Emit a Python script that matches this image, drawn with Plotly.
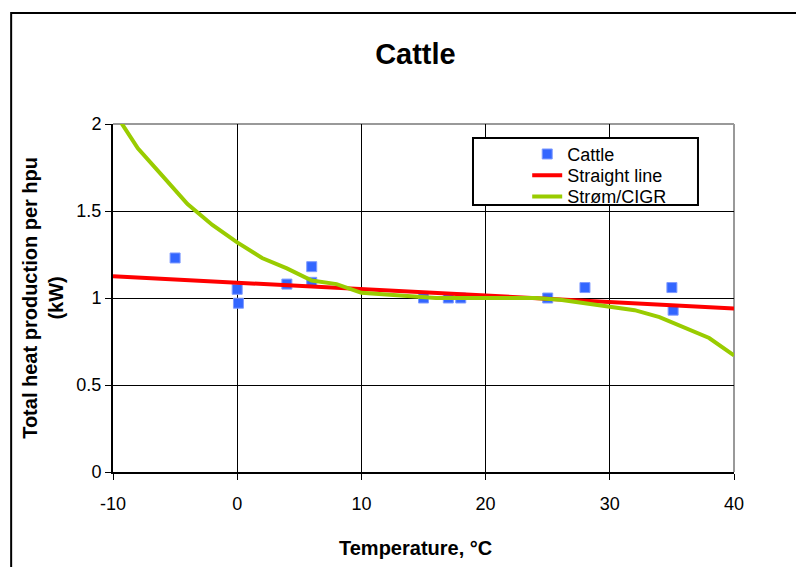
import plotly.graph_objs as go

# measured cattle points
cattle_temp = [-5, 0, 0.1, 4, 6, 6, 15, 17, 18, 25, 28, 35, 35.1]
cattle_heat = [1.23, 1.05, 0.97, 1.08, 1.18, 1.09, 1.0, 1.0, 1.0, 1.0, 1.06, 1.06, 0.93]

# fitted straight line
line_temp = [-10, 40]
line_heat = [1.125, 0.94]

# Strøm/CIGR curve
cigr_temp = [-10, -8, -6, -4, -2, 0, 2, 4, 6, 8, 10, 12, 14, 16, 18, 20, 22, 24, 26, 28, 30, 32, 34, 36, 38, 40]
cigr_heat = [2.08, 1.86, 1.70, 1.54, 1.42, 1.32, 1.23, 1.17, 1.10, 1.08, 1.03, 1.02, 1.01, 1.0, 1.0,
             1.0, 1.0, 1.0, 0.99, 0.97, 0.95, 0.93, 0.89, 0.83, 0.77, 0.67]

x_ticks = [-10, 0, 10, 20, 30, 40]
x_ticktext = ['-10', '0', '10', '20', '30', '40']
y_ticks = [0, 0.5, 1, 1.5, 2]
y_ticktext = ['0', '0.5', '1', '1.5', '2']

FONT = 'Liberation Sans, Arial, sans-serif'

fig = go.Figure()
fig.add_trace(go.Scatter(x=cattle_temp, y=cattle_heat, mode='markers', name='Cattle', legend='legend',
                         marker=dict(symbol='square', size=10, color='#3366FF',
                                     line=dict(width=1, color='#7f9bff'))))
fig.add_trace(go.Scatter(x=line_temp, y=line_heat, mode='lines', name='Straight line', legend='legend2',
                         line=dict(color='#FF0000', width=4)))
fig.add_trace(go.Scatter(x=cigr_temp, y=cigr_heat, mode='lines', name='Strøm/CIGR', legend='legend3',
                         line=dict(color='#99CC00', width=4)))

# one legend per row so the rows can sit as tight as in the original
leg = dict(x=0.667, xanchor='left', yanchor='middle', bgcolor='rgba(0,0,0,0)', borderwidth=0,
           font=dict(size=18, family=FONT, color='black'))

fig.update_layout(
    width=796, height=567,
    margin=dict(l=113, r=62, t=124, b=95),
    paper_bgcolor='white', plot_bgcolor='white',
    font=dict(family=FONT, color='black'),
    title=dict(text='<b>Cattle</b>', font=dict(size=29, family=FONT, color='black'),
               xref='paper', x=0.487, xanchor='center', yref='container', y=0.905, yanchor='middle'),
    showlegend=True,
    legend=dict(leg, y=0.913),
    legend2=dict(leg, y=0.852),
    legend3=dict(leg, y=0.791),
    xaxis=dict(range=[-10, 40], tickvals=x_ticks, ticktext=x_ticktext, showgrid=True,
               gridcolor='black', gridwidth=1,
               showline=True, linecolor='black', linewidth=2, zeroline=False,
               ticks='outside', ticklen=6, tickcolor='black', tickwidth=1,
               tickfont=dict(size=18, family=FONT), ticklabelstandoff=8),
    yaxis=dict(range=[0, 2], tickvals=y_ticks, ticktext=y_ticktext, showgrid=True, gridcolor='black',
               gridwidth=1, showline=True, linecolor='black', linewidth=2, zeroline=False,
               ticks='outside', ticklen=6, tickcolor='black', tickwidth=1,
               tickfont=dict(size=18, family=FONT)),
)

# grey top/right edge of plot area
fig.add_shape(type='line', xref='paper', yref='paper', x0=0, x1=1, y0=1, y1=1,
              line=dict(color='#999999', width=2), layer='between')
fig.add_shape(type='line', xref='paper', yref='paper', x0=1, x1=1, y0=0, y1=1,
              line=dict(color='#999999', width=2), layer='between')

# legend box
fig.add_shape(type='rect', xref='paper', yref='paper', x0=0.5797, x1=0.942, y0=0.767, y1=0.9598,
              line=dict(color='black', width=2), fillcolor='white', layer='above')

# outer chart frame
fig.add_shape(type='rect', xref='paper', yref='paper', x0=-0.164, x1=1.3, y0=-0.5, y1=1.319,
              line=dict(color='black', width=2), fillcolor='rgba(0,0,0,0)', layer='below')

fig.add_annotation(text='<b>Temperature, °C</b>', xref='paper', yref='paper', x=0.487, y=-0.218,
                   xanchor='center', yanchor='middle', showarrow=False,
                   font=dict(size=20, family=FONT, color='black'))
fig.add_annotation(text='<b>Total heat production per hpu<br>(kW)</b>', xref='paper', yref='paper',
                   x=-0.113, y=0.5, xanchor='center', yanchor='middle', textangle=-90, showarrow=False,
                   font=dict(size=20, family=FONT, color='black'))

fig.write_html("out.html", config={'displayModeBar': False},
               post_script="document.body.style.margin='0';")
